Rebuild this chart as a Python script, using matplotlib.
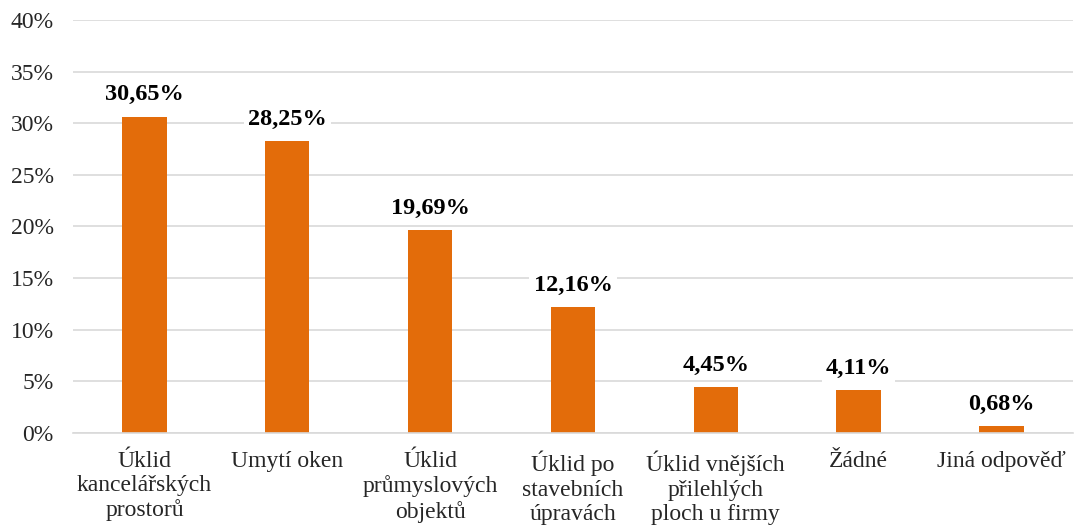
import numpy as np
import matplotlib.pyplot as plt

categories = ['Úklid\nkancelářských\nprostorů', 'Umytí oken', 'Úklid\nprůmyslových\nobjektů',
              'Úklid po\nstavebních\núpravách', 'Úklid vnějších\npřilehlých\nploch u firmy',
              'Žádné', 'Jiná odpověď']
values = [30.65, 28.25, 19.69, 12.16, 4.45, 4.11, 0.68]
yticks = [0, 5, 10, 15, 20, 25, 30, 35, 40]

plt.rcParams['font.family'] = ['Liberation Serif', 'DejaVu Serif']

fig = plt.figure(figsize=(10.75, 5.26), dpi=100)
ax = fig.add_axes([0.068, 0.177, 0.93, 0.785])

x = np.arange(len(categories))
ax.bar(x, values, width=0.31, color='#e36c0a', zorder=2)

for xi, v in zip(x, values):
    ax.annotate(('%.2f%%' % v).replace('.', ','), (xi, v), xytext=(0, 8),
                textcoords='offset points', ha='center', va='bottom',
                fontsize=17.5, fontweight='bold', color='black', zorder=3,
                bbox=dict(facecolor='white', edgecolor='none', pad=3))

ax.set_ylim(0, 40)
ax.set_xlim(-0.5, len(categories) - 0.5)
ax.set_yticks(yticks)
ax.set_yticklabels(['%d%%' % t for t in yticks], fontsize=17, color='#262626')
ax.set_xticks(x)
ax.set_xticklabels(categories, fontsize=17, color='#262626', linespacing=1.2)
ax.tick_params(length=0)
ax.tick_params(axis='x', pad=13)
ax.tick_params(axis='y', pad=14)
ax.grid(axis='y', color='#d9d9d9', linewidth=1.2, zorder=0)
for s in ['top', 'right', 'left']:
    ax.spines[s].set_visible(False)
ax.spines['bottom'].set_color('#d9d9d9')
ax.spines['bottom'].set_linewidth(1.2)

fig.savefig('out.png', dpi=100)
